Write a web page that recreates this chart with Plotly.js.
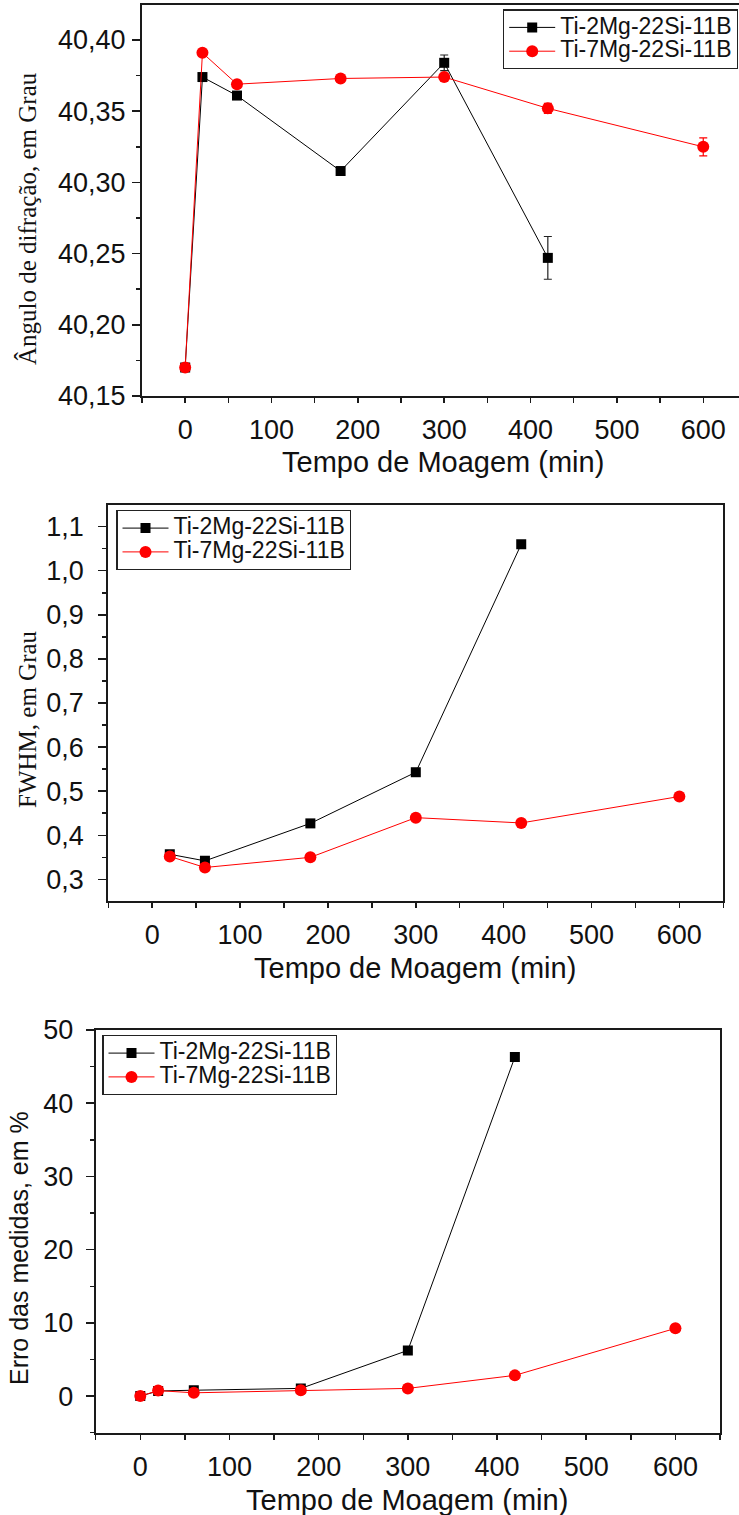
<!DOCTYPE html>
<html>
<head>
<meta charset="utf-8">
<script src="https://cdn.plot.ly/plotly-3.0.1.min.js"></script>
<style>html,body{margin:0;padding:0;background:#fff;}#chart{width:739px;height:1515px;}</style>
</head>
<body>
<div id="chart"></div>
<script>
// ---- data ----
const seriesNames = ["Ti-2Mg-22Si-11B", "Ti-7Mg-22Si-11B"];
const time2 = [0, 20, 60, 180, 300, 420];
const time7 = [0, 20, 60, 180, 300, 420, 600];
const angle2 = [40.170, 40.374, 40.361, 40.308, 40.384, 40.247];
const angle2Err = [0, 0, 0, 0, 0.0055, 0.015];
const angle7 = [40.170, 40.391, 40.369, 40.373, 40.374, 40.352, 40.325];
const angle7Err = [0, 0, 0, 0, 0, 0.0035, 0.0063];
const fwhmTime2 = [20, 60, 180, 300, 420];
const fwhm2 = [0.357, 0.342, 0.427, 0.543, 1.060];
const fwhmTime7 = [20, 60, 180, 300, 420, 600];
const fwhm7 = [0.352, 0.327, 0.350, 0.440, 0.428, 0.488];
const erro2 = [0, 0.7, 0.8, 1.05, 6.24, 46.3];
const erro7 = [0, 0.75, 0.45, 0.8, 1.05, 2.83, 9.25];
const xTitle = "Tempo de Moagem (min)";
const yTitles = ["Ângulo de difração, em Grau", "FWHM, em Grau", "Erro das medidas, em %"];

// ---- styles ----
const W = 739, H = 1515;
const SANS = "Liberation Sans, Arial, sans-serif";
const SERIF = "Liberation Serif, Times New Roman, serif";
const AX = "#1a1a1a";
const blackLine = {color: "#000", width: 1};
const redLine = {color: "#ff0000", width: 1};
const sq = {symbol: "square", size: 10, color: "#000"};
const ci = {symbol: "circle", size: 12, color: "#ff0000"};
const legName = n => '<span style="font-size:23px">' + n + '</span>';

function px(x) { return x / W; }
function py(y) { return 1 - y / H; }

const traces = [
  {x: time2, y: angle2, name: legName(seriesNames[0]), mode: "lines+markers", line: blackLine, marker: sq,
   error_y: {type: "data", array: angle2Err, visible: true, color: "#222", thickness: 1.2, width: 4},
   xaxis: "x", yaxis: "y", legend: "legend"},
  {x: time7, y: angle7, name: legName(seriesNames[1]), mode: "lines+markers", line: redLine, marker: ci,
   error_y: {type: "data", array: angle7Err, visible: true, color: "#ff0000", thickness: 1.2, width: 4},
   xaxis: "x", yaxis: "y", legend: "legend"},
  {x: fwhmTime2, y: fwhm2, name: legName(seriesNames[0]), mode: "lines+markers", line: blackLine, marker: sq,
   xaxis: "x2", yaxis: "y2", legend: "legend2"},
  {x: fwhmTime7, y: fwhm7, name: legName(seriesNames[1]), mode: "lines+markers", line: redLine, marker: ci,
   xaxis: "x2", yaxis: "y2", legend: "legend2"},
  {x: time2, y: erro2, name: legName(seriesNames[0]), mode: "lines+markers", line: blackLine, marker: sq,
   xaxis: "x3", yaxis: "y3", legend: "legend3"},
  {x: time7, y: erro7, name: legName(seriesNames[1]), mode: "lines+markers", line: redLine, marker: ci,
   xaxis: "x3", yaxis: "y3", legend: "legend3"}
];

function xax(dom, anchor, range) {
  return {domain: dom, anchor: anchor, range: range, dtick: 100, tick0: 0,
    showline: true, linecolor: AX, linewidth: 2, mirror: true,
    ticks: "outside", ticklen: 5, tickwidth: 1.5, tickcolor: AX,
    minor: {dtick: 50, tick0: 0, ticks: "outside", ticklen: 5, tickwidth: 1.5, tickcolor: AX},
    ticklabelstandoff: 4, automargin: false,
    tickfont: {family: SANS, size: 27, color: "#111"},
    showgrid: false, zeroline: false};
}
function yax(dom, anchor, range, dtick, tick0, minor, fmt, standoff, mirror) {
  return {domain: dom, anchor: anchor, range: range, dtick: dtick, tick0: tick0, tickformat: fmt,
    showline: true, linecolor: AX, linewidth: 2, mirror: mirror,
    ticks: "outside", ticklen: 8, tickwidth: 1.5, tickcolor: AX,
    minor: {dtick: minor, tick0: tick0, ticks: "outside", ticklen: 4, tickwidth: 1.5, tickcolor: AX},
    ticklabelstandoff: standoff, automargin: false,
    tickfont: {family: SANS, size: 27, color: "#111"},
    showgrid: false, zeroline: false};
}
function leg(x, y, xanchor) {
  return {x: x, y: y, xanchor: xanchor, yanchor: "top", bgcolor: "rgba(255,255,255,0)",
    bordercolor: "#222", borderwidth: 1.2, font: {family: SANS, size: 16, color: "#111"},
    tracegroupgap: 0, itemwidth: 46};
}
function titleAnn(text, x, y, angle, family, size) {
  return {text: text, xref: "paper", yref: "paper", x: px(x), y: py(y), xanchor: "center", yanchor: "middle",
    showarrow: false, textangle: angle, font: {family: family, size: size, color: "#111"}};
}

const layout = {
  width: W, height: H,
  margin: {l: 0, r: 0, t: 0, b: 0, autoexpand: false},
  paper_bgcolor: "#fff", plot_bgcolor: "#fff",
  separators: ",.",
  showlegend: true,
  xaxis: xax([px(142), 1], "y", [-50, 641.4]),
  yaxis: yax([py(396), py(5)], "x", [40.15, 40.4246], 0.05, 40.15, 0.025, ".2f", 1, false),
  xaxis2: xax([px(108.3), px(723.3)], "y2", [-50, 650]),
  yaxis2: yax([py(901), py(505)], "x2", [0.251, 1.149], 0.1, 0.3, 0.05, ".1f", 9, true),
  xaxis3: xax([px(95.7), px(720)], "y3", [-50, 650]),
  yaxis3: yax([py(1432.7), py(1030)], "x3", [-5, 50], 10, 0, 5, "d", 7, true),
  legend: leg(px(738), py(9.3), "right"),
  legend2: leg(px(116.3), py(510), "left"),
  legend3: leg(px(102.3), py(1035), "left"),
  annotations: [
    titleAnn(xTitle, 443, 462, 0, SANS, 29),
    titleAnn(xTitle, 415, 968, 0, SANS, 29),
    titleAnn(xTitle, 407, 1500, 0, SANS, 29),
    titleAnn(yTitles[0], 27, 219, -90, SERIF, 25),
    titleAnn(yTitles[1], 27, 719, -90, SERIF, 25),
    titleAnn(yTitles[2], 19, 1248, -90, SANS, 25)
  ]
};

Plotly.newPlot("chart", traces, layout, {displayModeBar: false, staticPlot: true});
</script>
</body>
</html>
